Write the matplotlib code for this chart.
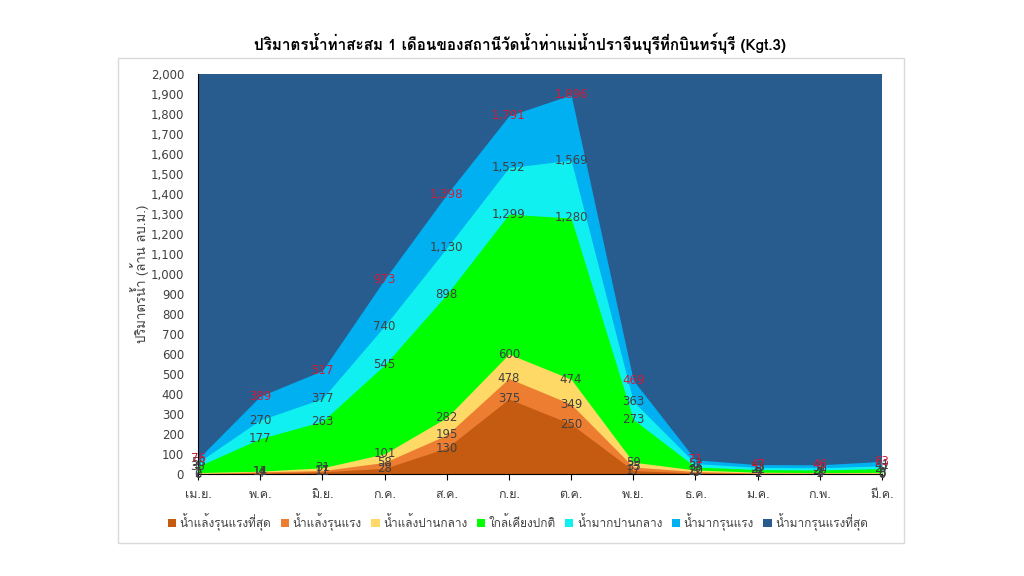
import numpy as np
import matplotlib
matplotlib.use("Agg")
import matplotlib.pyplot as plt
from matplotlib import font_manager
from matplotlib.ft2font import FT2Font
from matplotlib.patches import Rectangle

# pick an installed font that actually has Thai glyphs
thai_font = None
for f in font_manager.fontManager.ttflist:
    try:
        if 0x0E01 in FT2Font(f.fname).get_charmap() and "DejaVu" not in f.name:
            thai_font = f.name
            break
    except Exception:
        pass
thai = [thai_font, "DejaVu Sans"] if thai_font else ["DejaVu Sans"]
plt.rcParams["font.family"] = ["DejaVu Sans"]

months = ["เม.ย.", "พ.ค.", "มิ.ย.", "ก.ค.", "ส.ค.", "ก.ย.", "ต.ค.", "พ.ย.", "ธ.ค.", "ม.ค.", "ก.พ.", "มี.ค."]

dry_extreme = [0, 4, 11, 28, 130, 375, 250, 17, 5, 2, 1, 0]
dry_severe = [2, 11, 17, 58, 195, 478, 349, 35, 12, 5, 4, 3]
dry_moderate = [7, 14, 31, 101, 282, 600, 474, 59, 20, 9, 7, 8]
near_normal = [38, 177, 263, 545, 898, 1299, 1280, 273, 35, 22, 20, 27]
wet_moderate = [58, 270, 377, 740, 1130, 1532, 1569, 363, 52, 33, 31, 41]
wet_severe = [76, 389, 517, 973, 1398, 1791, 1896, 469, 71, 47, 46, 63]
wet_extreme = [2000] * 12

names = ["น้ำแล้งรุนแรงที่สุด", "น้ำแล้งรุนแรง", "น้ำแล้งปานกลาง", "ใกล้เคียงปกติ",
         "น้ำมากปานกลาง", "น้ำมากรุนแรง", "น้ำมากรุนแรงที่สุด"]
colors = ["#C55A11", "#ED7D31", "#FFD966", "#00FF00", "#10F0F0", "#00B0F0", "#285C8E"]
series = [dry_extreme, dry_severe, dry_moderate, near_normal, wet_moderate, wet_severe, wet_extreme]

fig = plt.figure(figsize=(10.24, 5.76), dpi=100)
fig.patches.append(Rectangle((118 / 1024, 1 - 543 / 576), 786 / 1024, 485 / 576,
                             transform=fig.transFigure, fill=False, edgecolor="#D9D9D9", lw=1))
ax = fig.add_axes([198 / 1024, 1 - 474 / 576, 684 / 1024, 400 / 576])

x = np.arange(len(months))
for vals, col, name in reversed(list(zip(series, colors, names))):
    ax.fill_between(x, 0, vals, color=col, lw=0, label=name)

# data labels (not for the top series)
for i, vals in enumerate(series[:-1]):
    tc = "#D01C3A" if i == 5 else "#404040"
    for xi, v in zip(x, vals):
        ax.text(xi, v, f"{v:,}", ha="center", va="center", fontsize=8.5, color=tc)

ax.set_xlim(0, 11)
ax.set_ylim(0, 2000)
ax.set_yticks(np.arange(0, 2001, 100))
ax.set_yticklabels([f"{v:,}" for v in range(0, 2001, 100)])
ax.set_xticks(x)
ax.set_xticklabels(months, family=thai)
ax.tick_params(axis="y", length=0, labelsize=8.5, colors="#404040", pad=10)
ax.tick_params(axis="x", length=4, direction="out", labelsize=9, colors="#404040", pad=7)
ax.tick_params(axis="x", color="#000000")
for s in ["top", "right"]:
    ax.spines[s].set_visible(False)
ax.spines["left"].set_color("#000000")
ax.spines["bottom"].set_color("#000000")
ax.set_ylabel("ปริมาตรน้ำ (ล้าน ลบ.ม.)", fontsize=9.5, color="#404040", family=thai, labelpad=1)

fig.text(520 / 1024, 1 - 43 / 576, "ปริมาตรน้ำท่าสะสม 1 เดือนของสถานีวัดน้ำท่าแม่น้ำปราจีนบุรีที่กบินทร์บุรี (Kgt.3)",
         ha="center", va="center", fontsize=11, fontweight="semibold", color="#000000", family=thai)

handles, labels = ax.get_legend_handles_labels()
handles, labels = handles[::-1], labels[::-1]
fig.legend(handles, labels, loc="center", bbox_to_anchor=(518 / 1024, 1 - 522 / 576), ncol=7,
           frameon=False, prop={"family": thai, "size": 8.5}, handlelength=0.7, handleheight=0.7,
           handletextpad=0.3, columnspacing=0.8, labelcolor="#404040")

fig.savefig("out.png", dpi=100)
